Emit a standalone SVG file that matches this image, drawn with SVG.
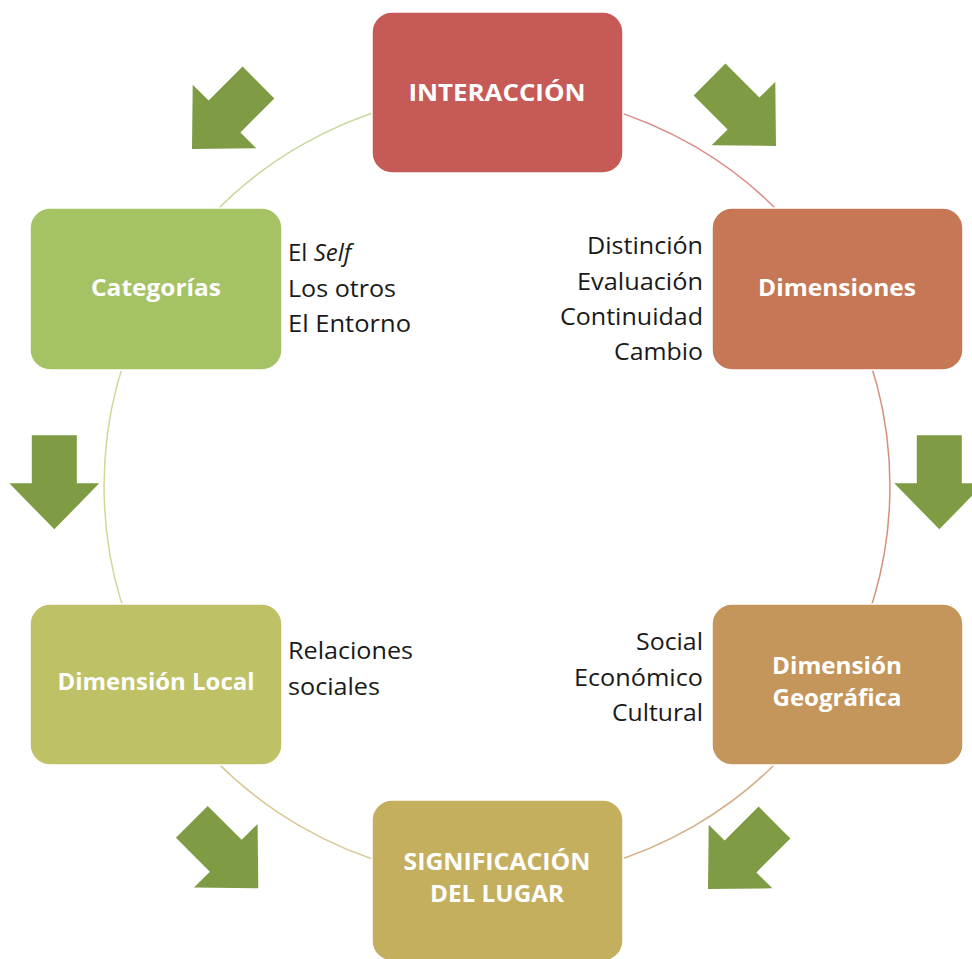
<svg xmlns="http://www.w3.org/2000/svg" width="972" height="959" viewBox="0 0 972 959">
<defs>
<style>
.box{stroke:#ffffff;stroke-width:1.5}
.lbl{font-family:"Open Sans","Liberation Sans",sans-serif;font-weight:bold;font-size:24px;fill:#ffffff;text-anchor:middle}
.side{font-family:"Open Sans","Liberation Sans",sans-serif;font-size:24px;fill:#1a1a1a}
.end{text-anchor:end}
.arc{fill:none;stroke-width:1.5}
.arrow{fill:#7f9c45}
</style>
<path id="arr" d="M -22.5 -94 L 22.5 -94 L 22.5 -46 L 45 -46 L 0 0 L -45 -46 L -22.5 -46 Z"/>
</defs>
<rect width="972" height="959" fill="#ffffff"/>
<g id="connectors">
<path class="arc" stroke="#d98e8a" d="M 497 93 A 393 393 0 0 1 837.3 289.5"/>
<path class="arc" stroke="#d3907a" d="M 837.3 289.5 A 393 393 0 0 1 837.3 682.5"/>
<path class="arc" stroke="#d4ae84" d="M 837.3 682.5 A 393 393 0 0 1 497 879"/>
<path class="arc" stroke="#d8c994" d="M 497 879 A 393 393 0 0 1 156.7 682.5"/>
<path class="arc" stroke="#d4d79a" d="M 156.7 682.5 A 393 393 0 0 1 156.7 289.5"/>
<path class="arc" stroke="#c7d99c" d="M 156.7 289.5 A 393 393 0 0 1 497 93"/>
</g>
<g id="arrows">
<use href="#arr" class="arrow" transform="translate(192 149) rotate(45)"/>
<use href="#arr" class="arrow" transform="translate(776 146) rotate(-45)"/>
<use href="#arr" class="arrow" transform="translate(54.3 529.3)"/>
<use href="#arr" class="arrow" transform="translate(939.3 529.3)"/>
<use href="#arr" class="arrow" transform="translate(258.3 888.3) rotate(-45)"/>
<use href="#arr" class="arrow" transform="translate(708 889) rotate(45)"/>
</g>
<g id="interaccion">
<rect class="box" x="372" y="12" width="251" height="161" rx="20" fill="#c55a57"/>
<text class="lbl" x="497" y="101" textLength="177" lengthAdjust="spacingAndGlyphs">INTERACCIÓN</text>
</g>
<g id="dimensiones">
<rect class="box" x="712" y="208" width="251" height="162" rx="20" fill="#c67856"/>
<text class="lbl" x="837" y="296" textLength="158" lengthAdjust="spacingAndGlyphs">Dimensiones</text>
<text class="side end" x="703" y="254" textLength="116" lengthAdjust="spacingAndGlyphs">Distinción</text>
<text class="side end" x="703" y="290" textLength="126" lengthAdjust="spacingAndGlyphs">Evaluación</text>
<text class="side end" x="703" y="325" textLength="143" lengthAdjust="spacingAndGlyphs">Continuidad</text>
<text class="side end" x="703" y="360" textLength="89" lengthAdjust="spacingAndGlyphs">Cambio</text>
</g>
<g id="geografica">
<rect class="box" x="712" y="604" width="251" height="161" rx="20" fill="#c4965c"/>
<text class="lbl" x="837" y="674" textLength="130" lengthAdjust="spacingAndGlyphs">Dimensión</text>
<text class="lbl" x="837" y="706" textLength="129" lengthAdjust="spacingAndGlyphs">Geográfica</text>
<text class="side end" x="703" y="650" textLength="67" lengthAdjust="spacingAndGlyphs">Social</text>
<text class="side end" x="703" y="686" textLength="129" lengthAdjust="spacingAndGlyphs">Económico</text>
<text class="side end" x="703" y="721" textLength="91" lengthAdjust="spacingAndGlyphs">Cultural</text>
</g>
<g id="significacion">
<rect class="box" x="372" y="800" width="251" height="161" rx="20" fill="#c4af5f"/>
<text class="lbl" x="497" y="870" textLength="187" lengthAdjust="spacingAndGlyphs">SIGNIFICACIÓN</text>
<text class="lbl" x="497" y="902" textLength="134" lengthAdjust="spacingAndGlyphs">DEL LUGAR</text>
</g>
<g id="local">
<rect class="box" x="30" y="604" width="252" height="161" rx="20" fill="#bec165"/>
<text class="lbl" x="156" y="690" textLength="197" lengthAdjust="spacingAndGlyphs">Dimensión Local</text>
<text class="side" x="288" y="659" textLength="125" lengthAdjust="spacingAndGlyphs">Relaciones</text>
<text class="side" x="288" y="695" textLength="92" lengthAdjust="spacingAndGlyphs">sociales</text>
</g>
<g id="categorias">
<rect class="box" x="30" y="208" width="252" height="162" rx="20" fill="#a5c264"/>
<text class="lbl" x="156" y="296" textLength="130" lengthAdjust="spacingAndGlyphs">Categorías</text>
<text class="side" x="288" y="261">El <tspan font-style="italic">Self</tspan></text>
<text class="side" x="288" y="297" textLength="108" lengthAdjust="spacingAndGlyphs">Los otros</text>
<text class="side" x="288" y="332" textLength="123" lengthAdjust="spacingAndGlyphs">El Entorno</text>
</g>
</svg>
